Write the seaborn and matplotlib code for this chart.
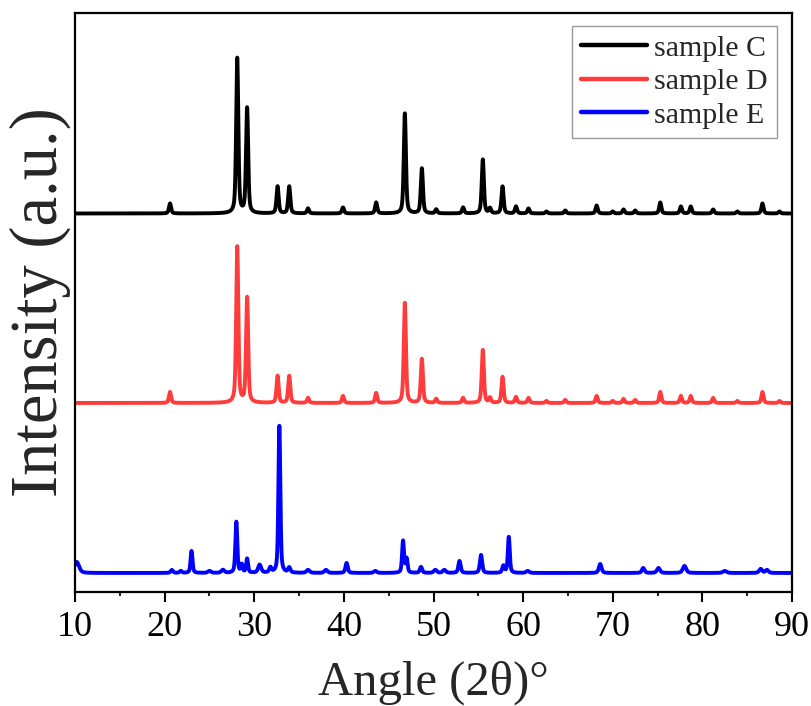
import numpy as np
import pandas as pd
import matplotlib
matplotlib.use("Agg")
import matplotlib.pyplot as plt
from matplotlib.ticker import MultipleLocator
import seaborn as sns

# Series names, colours and vertical offsets of each pattern
samples = ["sample C", "sample D", "sample E"]
colors = ["#000000", "#FF3B3B", "#0000FF"]
baselines = [378.5, 189.0, 19.0]

# Reflections: position (2θ, deg) and height (a.u.) for each sample
c_pos = [20.6, 28.1, 29.2, 32.6, 33.9, 36.0, 39.9, 43.6, 46.8, 48.7, 50.3, 53.3,
         55.5, 56.3, 57.7, 59.2, 60.6, 62.6, 64.7, 68.2, 70.0, 71.2, 72.5, 75.3,
         77.6, 78.7, 81.2, 83.9, 86.7, 88.6]
c_hgt = [10, 155, 105, 27, 27, 5, 6, 11, 100, 45, 4, 6,
         54, 5, 27, 7, 5, 2, 3, 8, 2, 4, 3, 11,
         7, 7, 4, 2, 10, 2]

d_pos = [20.6, 28.1, 29.2, 32.6, 33.9, 36.0, 39.9, 43.6, 46.8, 48.7, 50.3, 53.3,
         55.5, 56.3, 57.7, 59.2, 60.6, 62.6, 64.7, 68.2, 70.0, 71.2, 72.5, 75.3,
         77.6, 78.7, 81.2, 83.9, 86.7, 88.6]
d_hgt = [11, 156, 105, 27, 27, 5, 7, 10, 100, 44, 4, 5,
         53, 5, 26, 6, 5, 2, 3, 7, 2, 4, 3, 11,
         7, 7, 5, 2, 11, 2]

e_pos = [10.2, 20.8, 21.8, 23.0, 25.0, 26.5, 28.0, 28.6, 29.2, 30.6, 31.8, 32.8,
         33.9, 36.0, 38.0, 40.3, 43.5, 46.6, 47.0, 48.6, 50.2, 51.2, 52.9, 55.3,
         57.8, 58.4, 60.5, 68.6, 73.4, 75.1, 78.0, 82.5, 86.5, 87.2]
e_hgt = [11, 3, 2, 22, 2, 3, 51, 8, 14, 8, 5, 147,
         5, 3, 3, 10, 2, 32, 14, 6, 3, 3, 12, 18,
         7, 36, 2, 9, 5, 5, 7, 2, 4, 3]
e_wid = [0.6, 0.3, 0.3, 0.25, 0.4, 0.4, 0.25, 0.25, 0.25, 0.4, 0.3, 0.25,
         0.3, 0.4, 0.4, 0.3, 0.4, 0.25, 0.25, 0.3, 0.4, 0.4, 0.3, 0.3,
         0.3, 0.25, 0.4, 0.35, 0.35, 0.4, 0.45, 0.5, 0.4, 0.4]

x_ticks = [10, 20, 30, 40, 50, 60, 70, 80, 90]

two_theta = np.arange(10.0, 90.0001, 0.02)


def pattern(pos, hgt, base, wid=None, eta=0.5):
    """Pseudo-Voigt sum of the listed reflections on a flat background."""
    if wid is None:
        wid = [0.28] * len(pos)
    y = np.full_like(two_theta, base)
    for p, h, w in zip(pos, hgt, wid):
        dx = (two_theta - p) / (w / 2.0)
        lor = 1.0 / (1.0 + dx ** 2)
        gau = np.exp(-np.log(2.0) * dx ** 2)
        y += h * (eta * lor + (1 - eta) * gau)
    return y


frames = []
for name, pos, hgt, base, wid in [
    (samples[0], c_pos, c_hgt, baselines[0], None),
    (samples[1], d_pos, d_hgt, baselines[1], None),
    (samples[2], e_pos, e_hgt, baselines[2], e_wid),
]:
    frames.append(pd.DataFrame({"angle": two_theta,
                                "intensity": pattern(pos, hgt, base, wid),
                                "sample": name}))
df = pd.concat(frames, ignore_index=True)

sns.set_style("ticks")
plt.rcParams["font.family"] = ["Liberation Serif", "DejaVu Serif"]

fig = plt.figure(figsize=(8.11, 7.06), dpi=100)
ax = fig.add_axes([0.0925, 0.1615, 0.8841, 0.8201])

sns.lineplot(data=df, x="angle", y="intensity", hue="sample",
             hue_order=samples, palette=dict(zip(samples, colors)),
             estimator=None, sort=False, linewidth=2.8, ax=ax)

ax.set_xlim(10, 90)
ax.set_ylim(0, 579)
ax.set_xticks(x_ticks)
ax.xaxis.set_minor_locator(MultipleLocator(5))
ax.set_yticks([])

for side in ["left", "right", "top", "bottom"]:
    ax.spines[side].set_visible(True)
    ax.spines[side].set_linewidth(1.6)
    ax.spines[side].set_color("black")

ax.tick_params(axis="x", which="major", direction="out", length=7.5, width=1.5,
               labelsize=26, pad=6, colors="black", top=False)
ax.tick_params(axis="x", which="minor", direction="out", length=3, width=1.5,
               top=False)

ax.set_xlabel("Angle (2θ)°", fontsize=35, labelpad=12)
ax.set_ylabel("Intensity (a.u.)", fontsize=48, labelpad=3)

leg = ax.legend(loc="upper right", bbox_to_anchor=(0.979, 0.9775),
                borderaxespad=0, fontsize=21.5, frameon=True, fancybox=False,
                handlelength=2.2, handletextpad=0.25, labelspacing=0.22,
                borderpad=0.3, title=None)
leg.get_frame().set_edgecolor("#808080")
leg.get_frame().set_linewidth(1.0)
for line in leg.get_lines():
    line.set_linewidth(3.2)

fig.savefig("out.png", dpi=100)
